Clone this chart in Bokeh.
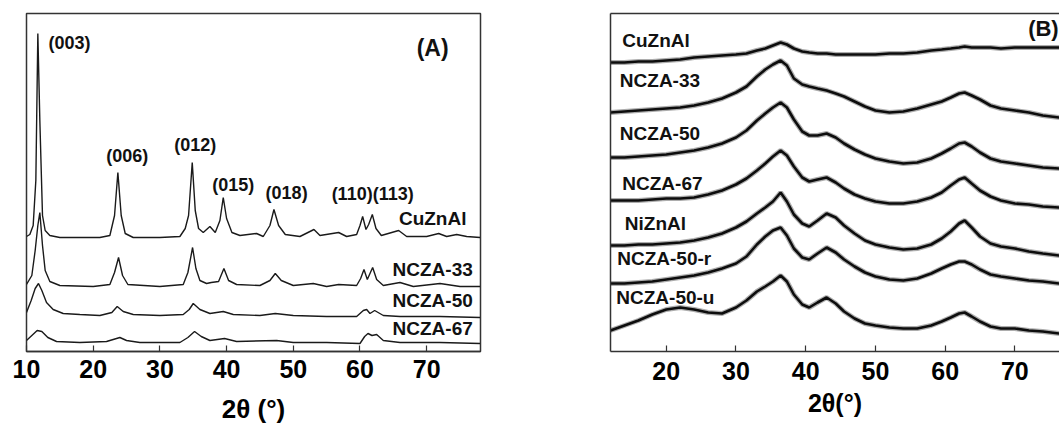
from bokeh.plotting import figure
from bokeh.layouts import row
from bokeh.models import Range1d, FixedTicker, LinearAxis
from bokeh.core.properties import value
from bokeh.embed import file_html
from bokeh.resources import INLINE

FONT = value("Liberation Sans")

# ---------------- Panel (A): XRD of as-synthesised LDH precursors ----------------
a_cuznal_x = [10.0, 10.5, 11.0, 11.4, 11.7, 12.0, 12.4, 12.8, 13.5, 15, 18, 21, 22.5, 23.2, 23.7, 24.2,
              24.8, 26, 30, 33, 33.8, 34.3, 34.85, 35.3, 35.8, 36.5, 37.5, 38.3, 39.0, 39.5, 40.0, 40.8,
              42, 44.5, 45.5, 46.5, 47.1, 47.8, 48.8, 51, 53.1, 54, 56.8, 58, 59.5, 60.0, 60.4, 60.9,
              61.3, 61.85, 62.4, 63.2, 65.8, 67, 70, 71.8, 73, 74.5, 76, 78]
a_cuznal_y = [115, 117, 126, 171, 318, 231, 136, 121, 116, 114, 114, 114, 116, 136, 179, 136,
              118, 114, 114, 115, 123, 136, 189, 141, 123, 119, 125, 119, 131, 154, 133, 119,
              116, 118, 115, 126, 142, 126, 117, 115, 122, 116, 119, 115, 117, 126, 135, 122,
              127, 137, 123, 116, 121, 115, 115, 118, 115, 117, 115, 114]

a_ncza33_x = [10.0, 10.8, 11.3, 11.7, 12.0, 12.4, 12.8, 13.5, 15, 20, 22.5, 23.2, 23.8, 24.4, 25.2, 30,
              33.5, 34.2, 34.9, 35.4, 36, 37, 37.7, 38.8, 39.6, 40.3, 41.5, 45, 46.5, 47.3, 48.2, 50,
              53, 55, 56.8, 59.5, 60.1, 60.6, 61.1, 61.9, 62.5, 63.5, 66, 68, 72, 75, 78]
a_ncza33_y = [67, 76, 101, 126, 139, 106, 81, 70, 66, 65, 67, 79, 94, 76, 67, 65,
              67, 79, 104, 83, 71, 68, 69, 70, 83, 71, 67, 66, 71, 78, 71, 66,
              68, 65, 67, 66, 73, 82, 72, 84, 72, 66, 69, 65, 68, 65, 65]

a_ncza50_x = [10.0, 10.7, 11.3, 11.8, 12.3, 13.0, 14, 15.5, 18, 21, 22.8, 23.6, 24.5, 26, 30, 33.5,
              34.4, 35.0, 36, 37.5, 39.5, 41, 45, 47.3, 50, 55, 59.5, 60.5, 61.0, 61.5, 62.2, 63.5,
              66, 72, 78]
a_ncza50_y = [39, 51, 63, 68, 61, 49, 42, 38, 37, 36, 39, 45, 40, 37, 36, 37,
              42, 48, 42, 38, 40, 37, 36, 38, 36, 35, 35, 41, 42, 38, 41, 36,
              35, 35, 34]

a_ncza67_x = [10.0, 10.8, 11.6, 12.3, 13.2, 14.5, 18, 22, 23.0, 24.0, 25.0, 27, 33, 34.2, 35.2, 36.2,
              37.5, 39.7, 41.5, 47.5, 50, 55, 60, 60.7, 61.2, 61.8, 62.5, 63.5, 66, 72, 78]
a_ncza67_y = [11, 16, 21, 20, 14, 10, 9, 10, 12, 14, 11, 9, 9, 14, 20, 15,
              11, 13, 10, 11, 9, 9, 8, 15, 18, 16, 17, 11, 9, 9, 8]

a_peak_labels = ["(006)", "(012)", "(015)", "(018)", "(110)(113)"]
a_peak_label_x = [25.1, 35.3, 41.0, 49.0, 61.9]
a_peak_label_y = [196, 207, 167, 159, 158]

a_names = ["CuZnAl", "NCZA-33", "NCZA-50", "NCZA-67"]
a_name_y = [133, 82, 51, 23]

# ---------------- Panel (B): XRD of calcined samples ----------------
b_x = [12, 14, 16, 18, 20, 22, 24, 26, 28, 30, 31.5, 33, 34.2, 35.3, 36.4, 37.3, 38.3, 39.5, 40.5, 41.7,
       43, 44.3, 45.5, 47, 48.5, 50, 52, 54, 56, 58, 59.5, 60.8, 62, 62.8, 63.8, 65, 66.5, 68, 70, 72,
       74, 76.4]
b_cuznal = [289, 289, 290, 290, 291, 292, 294, 295, 296, 297, 298, 301, 303, 306, 309, 307, 303, 300, 299, 298,
            298, 297, 297, 297, 297, 297, 298, 298, 299, 301, 302, 303, 304, 305, 304, 304, 304, 303, 304, 304,
            304, 304]
b_ncza33 = [239, 240, 241, 242, 243, 244, 246, 249, 253, 259, 265, 275, 282, 287, 291, 286, 273, 267, 265, 263,
            261, 258, 255, 250, 245, 241, 239, 240, 243, 247, 250, 254, 258, 259, 256, 252, 246, 243, 241, 239,
            236, 234]
b_ncza50 = [194, 194, 195, 196, 197, 199, 201, 204, 208, 214, 221, 231, 238, 244, 249, 244, 232, 220, 216, 216,
            218, 214, 208, 202, 197, 193, 190, 188, 189, 193, 198, 203, 208, 209, 205, 199, 193, 190, 188, 186,
            184, 183]
b_ncza67 = [151, 151, 151, 152, 153, 153, 154, 157, 161, 167, 173, 181, 188, 195, 201, 196, 185, 174, 170, 172,
            174, 169, 163, 157, 153, 150, 148, 148, 150, 154, 159, 166, 172, 174, 168, 161, 155, 151, 148, 147,
            145, 144]
b_niznal = [106, 106, 107, 107, 108, 109, 111, 114, 118, 124, 130, 138, 144, 150, 159, 150, 137, 128, 125, 131,
            138, 134, 126, 118, 111, 107, 104, 102, 103, 107, 113, 120, 128, 131, 124, 115, 108, 105, 103, 100,
            98, 96]
b_ncza50r = [68, 68, 69, 70, 72, 74, 76, 79, 83, 88, 95, 107, 115, 121, 124, 116, 103, 94, 92, 98,
             104, 99, 92, 85, 79, 75, 72, 71, 73, 78, 83, 87, 90, 90, 87, 82, 77, 75, 73, 71,
             70, 68]
b_ncza50u = [21, 26, 31, 37, 42, 44, 42, 39, 38, 44, 51, 60, 65, 70, 76, 70, 57, 47, 44, 49,
             54, 48, 40, 33, 28, 26, 24, 23, 23, 26, 30, 34, 38, 39, 35, 30, 25, 23, 23, 21,
             20, 18]

b_names = ["CuZnAl", "NCZA-33", "NCZA-50", "NCZA-67", "NiZnAl", "NCZA-50-r", "NCZA-50-u"]
b_name_x = [13.69, 13.34, 13.34, 13.69, 14.06, 12.97, 12.83]
b_name_y = [311, 271, 218, 168, 128, 93, 54]

ticks_a = [10, 20, 30, 40, 50, 60, 70]
ticks_b = [20, 30, 40, 50, 60, 70]


def style_xaxis(p, ticks, tick_size, title_size, label_standoff, title_standoff):
    ax = p.xaxis[0]
    ax.ticker = FixedTicker(ticks=ticks)
    ax.major_tick_in = 6
    ax.major_tick_out = 0
    ax.minor_tick_line_color = None
    ax.major_tick_line_color = "#333333"
    ax.major_tick_line_width = 1.2
    ax.axis_line_color = "#333333"
    ax.axis_line_width = 1.5
    ax.major_label_text_font = "Liberation Sans"
    ax.major_label_text_font_style = "bold"
    ax.major_label_text_font_size = tick_size
    ax.major_label_text_color = "black"
    ax.major_label_standoff = label_standoff
    ax.axis_label_text_font = "Liberation Sans"
    ax.axis_label_text_font_style = "bold"
    ax.axis_label_text_font_size = title_size
    ax.axis_label_text_color = "black"
    ax.axis_label_standoff = title_standoff


# ---- figure A ----
pA = figure(width=498, height=427, x_range=Range1d(10, 78.07), y_range=Range1d(0, 338),
            output_backend="svg", toolbar_location=None,
            min_border_left=26, min_border_right=18, min_border_top=13, min_border_bottom=76)
pA.xgrid.visible = False
pA.ygrid.visible = False
pA.yaxis.visible = False
pA.outline_line_color = "#333333"
pA.outline_line_width = 1.5
pA.background_fill_color = "white"
pA.border_fill_color = "white"
pA.xaxis.axis_label = "2θ (°)"
style_xaxis(pA, ticks_a, "25px", "26px", 8, 13)

for xs, ys in [(a_cuznal_x, a_cuznal_y), (a_ncza33_x, a_ncza33_y),
               (a_ncza50_x, a_ncza50_y), (a_ncza67_x, a_ncza67_y)]:
    pA.line(xs, ys, line_color="#1a1a1a", line_width=1.4)

pA.text(x=[13.3], y=[309], text=["(003)"], text_font=FONT, text_font_style="bold",
        text_font_size="18px", text_align="left", text_baseline="middle", text_color="#111111")
pA.text(x=a_peak_label_x, y=a_peak_label_y, text=a_peak_labels, text_font=FONT,
        text_font_style="bold", text_font_size="18px", text_align="center",
        text_baseline="middle", text_color="#111111")
pA.text(x=[70.9] * len(a_names), y=a_name_y, text=a_names, text_font=FONT,
        text_font_style="bold", text_font_size="19px", text_align="center",
        text_baseline="middle", text_color="#111111")
pA.text(x=[70.9], y=[304], text=["(A)"], text_font=FONT, text_font_style="bold",
        text_font_size="23px", text_align="center", text_baseline="middle", text_color="#111111")

# ---- figure B ----
pB = figure(width=561, height=427, x_range=Range1d(12, 76.4), y_range=Range1d(0, 338),
            output_backend="svg", toolbar_location=None,
            min_border_left=112, min_border_right=0, min_border_top=13, min_border_bottom=76)
pB.xgrid.visible = False
pB.ygrid.visible = False
pB.outline_line_color = None
pB.background_fill_color = "white"
pB.border_fill_color = "white"
pB.xaxis.axis_label = "2θ(°)"
style_xaxis(pB, ticks_b, "25px", "25px", 10, 6)

yax = pB.yaxis[0]
yax.ticker = FixedTicker(ticks=[])
yax.axis_line_color = "#333333"
yax.axis_line_width = 1.5
yax.major_tick_line_color = None
yax.minor_tick_line_color = None
yax.major_label_standoff = 0

top = LinearAxis(ticker=FixedTicker(ticks=[]), axis_line_color="#333333", axis_line_width=1.5,
                 major_tick_line_color=None, minor_tick_line_color=None, major_label_standoff=0,
                 major_tick_out=0, major_tick_in=0)
pB.add_layout(top, "above")

for ys in [b_cuznal, b_ncza33, b_ncza50, b_ncza67, b_niznal, b_ncza50r, b_ncza50u]:
    pB.line(b_x, ys, line_color="#6a6a6a", line_width=5, line_alpha=0.55)
    pB.line(b_x, ys, line_color="#0d0d0d", line_width=2.6)

pB.text(x=b_name_x, y=b_name_y, text=b_names, text_font=FONT, text_font_style="bold",
        text_font_size="19px", text_align="left", text_baseline="middle", text_color="#111111")
pB.text(x=[71.9], y=[323], text=["(B)"], text_font=FONT, text_font_style="bold",
        text_font_size="22px", text_align="left", text_baseline="middle", text_color="#111111")

layout = row(pA, pB)
open("out.html", "w").write(file_html(layout, INLINE))
